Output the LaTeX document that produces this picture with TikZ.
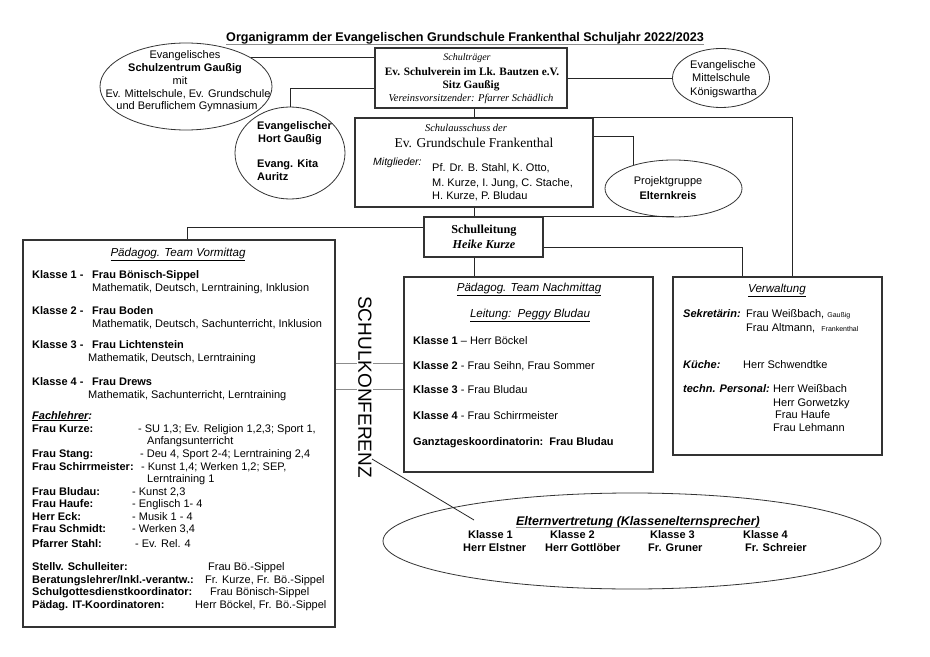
\documentclass[tikz,border=0pt]{standalone}
\usepackage{fontspec}
\setmainfont{Liberation Sans}
\newfontfamily\timesfont{Liberation Serif}
\usetikzlibrary{shapes.geometric,fit}

\newcommand\fsz[1]{\fontsize{#1bp}{#1bp}\selectfont}

\tikzset{
  box/.style={draw=black!80, line width=1.1bp, inner sep=0pt},
  oval/.style={ellipse, draw=black!80, line width=0.8bp, inner sep=0pt},
  conn/.style={draw=black!85, line width=0.8bp},
  faint/.style={draw=black!45, line width=0.9bp},
  lbl/.style={inner sep=0pt, anchor=base west, font=\fsz{11}},
  clbl/.style={inner sep=0pt, anchor=base, font=\fsz{11}},
  strong/.style={font=\fsz{11}\bfseries},
  heading/.style={font=\fsz{11.6}\itshape},
}

\begin{document}
\begin{tikzpicture}[x=1bp, y=-1bp]
\useasboundingbox[fill=white] (0,0) rectangle (930,657);

% title
\node[clbl, font=\fsz{12.6}\bfseries] (title) at (465,42) {Organigramm der Evangelischen Grundschule Frankenthal Schuljahr 2022/2023};
\draw[black!45, line width=1.6bp] ([yshift=-2.6bp]title.base west) -- ([yshift=-2.6bp]title.base east);

% Schultraeger
\node[box, fit={(375,48) (567,108)}] (traeger) {};
\node[clbl, font=\fsz{10}\timesfont\itshape] (traeger-1) at (467,61) {Schulträger};
\node[clbl, font=\fsz{11.3}\timesfont\bfseries] (traeger-2) at (472,76) {Ev. Schulverein im Lk. Bautzen e.V.};
\node[clbl, font=\fsz{11.3}\timesfont\bfseries] (traeger-3) at (471,89) {Sitz Gaußig};
\node[clbl, font=\fsz{10.5}\timesfont\itshape] (traeger-4) at (471,102) {Vereinsvorsitzender: Pfarrer Schädlich};

% Schulzentrum (links oben)
\node[oval, minimum width=172bp, minimum height=87bp] (zentrum) at (186,86.5) {};
\node[clbl] (zentrum-1) at (185,58.5) {Evangelisches};
\node[clbl, strong] (zentrum-2) at (185,71.5) {Schulzentrum Gaußig};
\node[clbl] (zentrum-3) at (180,84.5) {mit};
\node[clbl] (zentrum-4) at (188,97.5) {Ev. Mittelschule, Ev. Grundschule};
\node[clbl] (zentrum-5) at (187,109.5) {und Beruflichem Gymnasium};

% Mittelschule (rechts oben)
\node[oval, minimum width=97bp, minimum height=59bp] (mittelschule) at (721,78) {};
\node[lbl] (mittelschule-1) at (690,69) {Evangelische};
\node[lbl] (mittelschule-2) at (692,82) {Mittelschule};
\node[lbl] (mittelschule-3) at (690,96) {Königswartha};

% Hort
\node[oval, minimum width=110bp, minimum height=92bp] (hort) at (290,153) {};
\node[lbl, strong] (hort-1) at (257,130) {Evangelischer};
\node[lbl, strong] (hort-2) at (258,143) {Hort Gaußig};
\node[lbl, strong] (hort-3) at (257,168) {Evang. Kita};
\node[lbl, strong] (hort-4) at (257,181) {Auritz};

% Schulausschuss
\node[box, fit={(355,118) (593,207)}] (ausschuss) {};
\node[clbl, font=\fsz{10.5}\timesfont\itshape] (ausschuss-1) at (466,132) {Schulausschuss der};
\node[clbl, font=\fsz{13.5}\timesfont] (ausschuss-2) at (474,148) {Ev. Grundschule Frankenthal};
\node[lbl, font=\fsz{10.5}\itshape] (mitglieder) at (373,166) {Mitglieder:};
\node[lbl] (mitglieder-1) at (432,172) {Pf. Dr. B. Stahl, K. Otto,};
\node[lbl] (mitglieder-2) at (432,186) {M. Kurze, I. Jung, C. Stache,};
\node[lbl] (mitglieder-3) at (432,199) {H. Kurze, P. Bludau};

% Projektgruppe
\node[oval, minimum width=137bp, minimum height=57bp] (projekt) at (673.5,188.5) {};
\node[clbl] (projekt-1) at (668,185) {Projektgruppe};
\node[clbl, strong] (projekt-2) at (668,199) {Elternkreis};

% Schulleitung
\node[box, fit={(424,217) (543,257)}] (leitung) {};
\node[clbl, font=\fsz{12.2}\timesfont\bfseries] (leitung-1) at (484,233) {Schulleitung};
\node[clbl, font=\fsz{12.2}\timesfont\bfseries\itshape] (leitung-2) at (484,248) {Heike Kurze};

% Team Vormittag
\node[box, fit={(23,240) (335,627)}] (vormittag) {};
\node[clbl, heading] (vm-head) at (178,256) {\underline{Pädagog. Team Vormittag}};
\foreach \k/\lehrer/\fach/\yy/\xf in {
  1/Frau Bönisch-Sippel/{Mathematik, Deutsch, Lerntraining, Inklusion}/278/92,
  2/Frau Boden/{Mathematik, Deutsch, Sachunterricht, Inklusion}/314/92,
  3/Frau Lichtenstein/{Mathematik, Deutsch, Lerntraining}/348/88,
  4/Frau Drews/{Mathematik, Sachunterricht, Lerntraining}/385/88}{
  \node[lbl, strong] (vm-k\k) at (32,\yy) {Klasse \k\ -};
  \node[lbl, strong] (vm-l\k) at (92,\yy) {\lehrer};
  \node[lbl] (vm-f\k) at (\xf,\yy+13.5) {\fach};
}
\node[lbl, font=\fsz{11}\bfseries\itshape] (fachlehrer) at (32,419) {\underline{Fachlehrer}:};
\foreach \lehrer/\fach/\yy/\xf [count=\i] in {
  Frau Kurze:/{- SU 1,3; Ev. Religion 1,2,3; Sport 1,}/432.5/138,
  Frau Stang:/{- Deu 4, Sport 2-4; Lerntraining 2,4}/457.5/140,
  Frau Schirrmeister:/{- Kunst 1,4; Werken 1,2; SEP,}/470.5/141,
  Frau Bludau:/{- Kunst 2,3}/495.5/132,
  Frau Haufe:/{- Englisch 1- 4}/507.5/132,
  Herr Eck:/{- Musik 1 - 4}/520.5/132,
  Frau Schmidt:/{- Werken 3,4}/532.5/132,
  Pfarrer Stahl:/{- Ev. Rel. 4}/547/135}{
  \node[lbl, strong] (fl-n\i) at (32,\yy) {\lehrer};
  \node[lbl] (fl-f\i) at (\xf,\yy) {\fach};
}
\node[lbl] (fl-f1b) at (147,444.5) {Anfangsunterricht};
\node[lbl] (fl-f3b) at (147,482.5) {Lerntraining 1};
\node[lbl, strong] (amt-1) at (32,570.5) {Stellv. Schulleiter:};
\node[lbl] (wer-1) at (208,570.5) {Frau Bö.-Sippel};
\node[lbl, strong] (amt-2) at (32,583.5) {Beratungslehrer/Inkl.-verantw.:};
\node[lbl] (wer-2) at (205,583.5) {Fr. Kurze, Fr. Bö.-Sippel};
\node[lbl, strong] (amt-3) at (32,595.5) {Schulgottesdienstkoordinator:};
\node[lbl] (wer-3) at (210,595.5) {Frau Bönisch-Sippel};
\node[lbl, strong] (amt-4) at (32,608.5) {Pädag. IT-Koordinatoren:};
\node[lbl] (wer-4) at (195,608.5) {Herr Böckel, Fr. Bö.-Sippel};

% Team Nachmittag
\node[box, fit={(404,277) (653,472)}] (nachmittag) {};
\node[clbl, heading] (nm-head) at (529,291) {\underline{Pädagog. Team Nachmittag}};
\node[clbl, heading] (nm-leitung) at (530,317) {\underline{Leitung:\ \ Peggy Bludau}};
\node[lbl] (nm-k1) at (413,344) {\textbf{Klasse 1} – Herr Böckel};
\node[lbl] (nm-k2) at (413,369) {\textbf{Klasse 2} - Frau Seihn, Frau Sommer};
\node[lbl] (nm-k3) at (413,393) {\textbf{Klasse 3} - Frau Bludau};
\node[lbl] (nm-k4) at (413,419) {\textbf{Klasse 4} - Frau Schirrmeister};
\node[lbl, strong] (nm-gtk) at (413,445) {Ganztageskoordinatorin:\ \ Frau Bludau};

% Verwaltung
\node[box, fit={(673,277) (882,455)}] (verwaltung) {};
\node[clbl, heading] (vw-head) at (777,292) {\underline{Verwaltung}};
\node[lbl, font=\fsz{11}\bfseries\itshape] (vw-sek) at (683,317) {Sekretärin:};
\node[lbl] (vw-sek1) at (746,317) {Frau Weißbach, {\fsz{7}Gaußig}};
\node[lbl] (vw-sek2) at (746,331) {Frau Altmann,\ \ {\fsz{7}Frankenthal}};
\node[lbl, font=\fsz{11}\bfseries\itshape] (vw-kueche) at (683,368) {Küche:};
\node[lbl] (vw-kueche1) at (743,368) {Herr Schwendtke};
\node[lbl, font=\fsz{11}\bfseries\itshape] (vw-tech) at (683,392) {techn. Personal:};
\node[lbl] (vw-tech1) at (773,392) {Herr Weißbach};
\node[lbl] (vw-tech2) at (773,406) {Herr Gorwetzky};
\node[lbl] (vw-tech3) at (775,418) {Frau Haufe};
\node[lbl] (vw-tech4) at (773,431) {Frau Lehmann};

% Elternvertretung
\node[oval, minimum width=498bp, minimum height=96bp] (eltern) at (632,541) {};
\node[clbl, font=\fsz{12.5}\bfseries\itshape] (eltern-head) at (638,525) {Elternvertretung (Klassenelternsprecher)};
\draw[black!45, line width=1.5bp] ([yshift=-2.5bp]eltern-head.base west) -- ([yshift=-2.5bp]eltern-head.base east);
\foreach \k/\name/\xk/\xn in {1/Herr Elstner/468/463, 2/Herr Gottlöber/550/545, 3/Fr. Gruner/650/648, 4/Fr. Schreier/743/745}{
  \node[lbl, strong] (ev-k\k) at (\xk,538) {Klasse \k};
  \node[lbl, strong] (ev-n\k) at (\xn,551) {\name};
}

% Verbindungen
\draw[conn] (zentrum.24) -- (zentrum.24 -| traeger.west);
\draw[conn] (traeger.east |- mittelschule.west) -- (mittelschule.west);
\draw[conn] ([yshift=-10bp]traeger.west) -| (hort.north);
\draw[conn] (ausschuss.north |- traeger.south) -- (ausschuss.north);
\draw[conn] (ausschuss.north) -| ([xshift=14.5bp]verwaltung.north);
\draw[conn] ([yshift=26.5bp]ausschuss.east) -| (projekt.150);
\draw[conn] (ausschuss.south) -- (ausschuss.south |- leitung.north);
\draw[conn] (leitung.north east) -- (leitung.north east -| projekt.south);
\draw[conn] ([yshift=10bp]leitung.west) -| ([xshift=8bp]vormittag.north);
\draw[conn] ([yshift=-10bp]leitung.east) -| ([xshift=-35.5bp]verwaltung.north);
\draw[conn] (ausschuss.south |- leitung.south) -- (ausschuss.south |- nachmittag.north);

% Schulkonferenz
\draw[faint] ([yshift=2.5bp]nm-k2.west -| vormittag.east) -- ([yshift=2.5bp]nm-k2.west -| nachmittag.west);
\draw[faint] (nm-k3.west -| vormittag.east) -- (nm-k3.west -| nachmittag.west);
\node[rotate=-90, font=\fsz{19}, fill=white, inner sep=1.5bp] (konferenz) at (365,387) {SCHULKONFERENZ};
\coordinate (konf-end) at (372,459);
\coordinate (eltern-in) at (474,520);
\draw[conn] (konf-end) -- (eltern-in);
\end{tikzpicture}
\end{document}
